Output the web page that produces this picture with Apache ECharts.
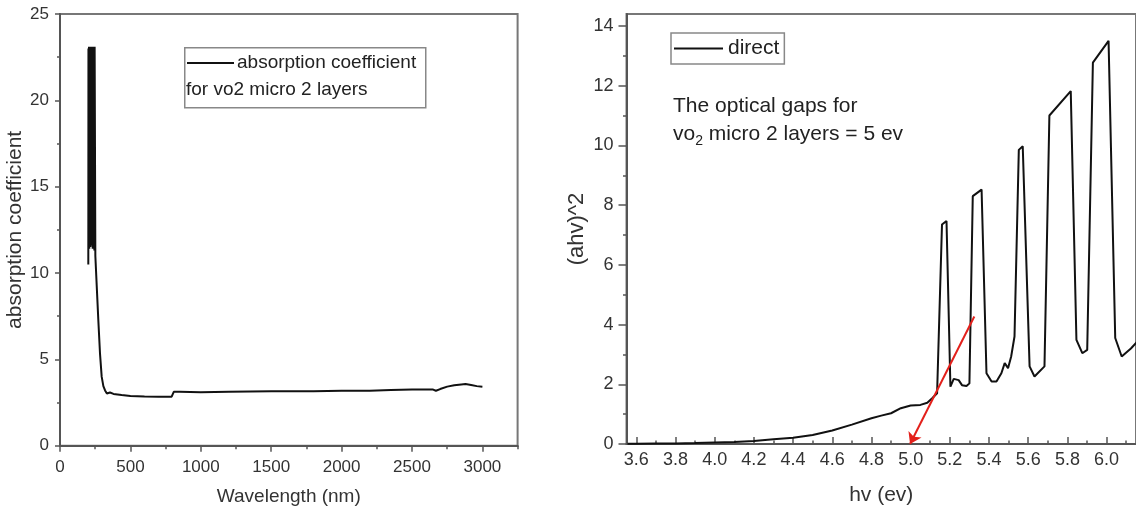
<!DOCTYPE html>
<html>
<head>
<meta charset="utf-8">
<script src="https://cdn.jsdelivr.net/npm/echarts@6/dist/echarts.min.js"></script>
<style>
  html, body { margin: 0; padding: 0; background: #fff; }
  #chart { width: 1136px; height: 520px; }
</style>
</head>
<body>
<div id="chart"></div>
<script>
// ---------- Left panel: absorption coefficient vs wavelength ----------
const wavelength = [201, 202, 204, 206, 208, 210, 212, 214, 216, 218, 220, 222, 224, 226, 228, 230, 232, 234, 236, 238, 240, 242, 244, 246, 248, 251,
  260, 272, 284, 296, 308, 320, 333, 343, 355, 380, 438, 500, 600, 700, 793, 800, 808, 850, 1000, 1200, 1210, 1500, 1800, 2000, 2200, 2350, 2500, 2600, 2650, 2670, 2700, 2750, 2800, 2850, 2880, 2920, 2960, 3000];
const absorption = [10.5, 23.0, 11.6, 23.1, 11.4, 23.0, 11.8, 23.1, 11.5, 23.0, 11.9, 23.1, 11.6, 23.0, 11.7, 23.1, 11.4, 23.0, 11.8, 23.1, 11.5, 23.0, 11.3, 23.1, 23.0, 11.0,
  9.4, 7.3, 5.35, 4.0, 3.45, 3.2, 3.02, 2.99, 3.08, 3.0, 2.94, 2.88, 2.85, 2.84, 2.84, 2.95, 3.12, 3.12, 3.1, 3.12, 3.15, 3.15, 3.16, 3.18, 3.18, 3.22, 3.25, 3.26, 3.25, 3.18, 3.28, 3.42, 3.5, 3.55, 3.57, 3.52, 3.45, 3.42];
const leftXTicks = [0, 500, 1000, 1500, 2000, 2500, 3000];
const leftXMinor = [250, 750, 1250, 1750, 2250, 2750, 3250];
const leftYTicks = [0, 5, 10, 15, 20, 25];
const leftYMinor = [2.5, 7.5, 12.5, 17.5, 22.5];

// ---------- Right panel: (ahv)^2 vs hv ----------
const photonEnergy = [3.555, 3.6, 3.7, 3.8, 3.9, 4.0, 4.1, 4.2, 4.3, 4.4, 4.5, 4.6, 4.7, 4.8, 4.85, 4.9, 4.95, 5.0, 5.05, 5.085, 5.11, 5.135,
  5.16, 5.183, 5.203, 5.22, 5.245, 5.262, 5.285, 5.30, 5.317, 5.362, 5.387, 5.413, 5.438, 5.463, 5.48, 5.497, 5.513, 5.53,
  5.552, 5.572, 5.607, 5.632, 5.683, 5.708, 5.817, 5.846, 5.876, 5.901, 5.93, 6.01, 6.044, 6.077, 6.124, 6.16];
const ahv2 = [0.01, 0.01, 0.02, 0.02, 0.03, 0.05, 0.07, 0.1, 0.16, 0.21, 0.30, 0.45, 0.65, 0.86, 0.95, 1.03, 1.2, 1.29, 1.31, 1.38, 1.53, 1.70,
  7.35, 7.47, 1.92, 2.18, 2.14, 1.97, 1.94, 2.03, 8.3, 8.52, 2.37, 2.09, 2.09, 2.37, 2.71, 2.54, 2.93, 3.6,
  9.85, 9.97, 2.6, 2.26, 2.6, 11.0, 11.82, 3.49, 3.04, 3.15, 12.77, 13.5, 3.55, 2.93, 3.2, 3.45];
const arrowX = [5.325, 4.997];
const arrowY = [4.27, 0.0];
const rightXTicks = [3.6, 3.8, 4.0, 4.2, 4.4, 4.6, 4.8, 5.0, 5.2, 5.4, 5.6, 5.8, 6.0];
const rightXMinor = [3.7, 3.9, 4.1, 4.3, 4.5, 4.7, 4.9, 5.1, 5.3, 5.5, 5.7, 5.9, 6.1];
const rightYTicks = [0, 2, 4, 6, 8, 10, 12, 14];
const rightYMinor = [1, 3, 5, 7, 9, 11, 13];

const FONT = "'Liberation Sans', Arial, Helvetica, sans-serif";
const AXIS_COLOR = '#555';
const LABEL_COLOR = '#333';

const leftData = wavelength.map((x, i) => [x, absorption[i]]);
const rightData = photonEnergy.map((x, i) => [x, ahv2[i]]);

function majorAxis(opts) {
  return Object.assign({
    type: 'value',
    splitLine: { show: false },
    axisLine: { show: true, onZero: false, lineStyle: { color: AXIS_COLOR, width: 2 } },
    axisTick: { show: true, customValues: opts.ticks, length: opts.tickLen, inside: !!opts.inside,
      lineStyle: { color: AXIS_COLOR, width: 1.5 } },
    axisLabel: { show: true, customValues: opts.ticks, margin: opts.margin, color: LABEL_COLOR,
      fontFamily: FONT, fontSize: opts.fontSize, formatter: opts.formatter || (v => String(v)) },
  }, opts.extra);
}
function minorAxis(opts) {
  return Object.assign({
    type: 'value',
    splitLine: { show: false },
    axisLine: { show: false, onZero: false },
    axisLabel: { show: false },
    axisTick: { show: true, customValues: opts.ticks, length: opts.tickLen, inside: !!opts.inside,
      lineStyle: { color: AXIS_COLOR, width: 1.5 } },
  }, opts.extra);
}

const chart = echarts.init(document.getElementById('chart'), null, { renderer: 'canvas' });

const option = {
  animation: false,
  backgroundColor: '#fff',
  grid: [
    { left: 60, top: 14, right: 618.4, bottom: 74.3, show: true, borderColor: '#777', borderWidth: 2, backgroundColor: 'transparent' },
    { left: 626.5, top: 14, right: -5.3, bottom: 76, show: true, borderColor: '#777', borderWidth: 2, backgroundColor: 'transparent' }
  ],
  xAxis: [
    majorAxis({ ticks: leftXTicks, tickLen: 6, margin: 13, fontSize: 17,
      extra: { gridIndex: 0, position: 'bottom', min: 0, max: 3250,
        name: 'Wavelength (nm)', nameLocation: 'middle', nameGap: 42,
        nameTextStyle: { fontFamily: FONT, fontSize: 19, color: LABEL_COLOR } } }),
    minorAxis({ ticks: leftXMinor, tickLen: 3.5, extra: { gridIndex: 0, position: 'bottom', min: 0, max: 3250 } }),
    majorAxis({ ticks: rightXTicks, tickLen: 7, inside: true, margin: 7, fontSize: 18,
      formatter: v => Number(v).toFixed(1),
      extra: { gridIndex: 1, position: 'bottom', min: 3.55, max: 6.15,
        name: 'hv (ev)', nameLocation: 'middle', nameGap: 41,
        nameTextStyle: { fontFamily: FONT, fontSize: 21, color: LABEL_COLOR } } }),
    minorAxis({ ticks: rightXMinor, tickLen: 3.5, inside: true, extra: { gridIndex: 1, position: 'bottom', min: 3.55, max: 6.15 } })
  ],
  yAxis: [
    majorAxis({ ticks: leftYTicks, tickLen: 5, margin: 11, fontSize: 17,
      extra: { gridIndex: 0, position: 'left', min: 0, max: 25,
        name: 'absorption coefficient', nameLocation: 'middle', nameGap: 33,
        nameTextStyle: { fontFamily: FONT, fontSize: 21, color: LABEL_COLOR } } }),
    minorAxis({ ticks: leftYMinor, tickLen: 3, extra: { gridIndex: 0, position: 'left', min: 0, max: 25 } }),
    majorAxis({ ticks: rightYTicks, tickLen: 8, margin: 13, fontSize: 18,
      extra: { gridIndex: 1, position: 'left', min: 0, max: 14.4,
        name: '(ahv)^2', nameLocation: 'middle', nameGap: 39,
        nameTextStyle: { fontFamily: FONT, fontSize: 22, color: LABEL_COLOR } } }),
    minorAxis({ ticks: rightYMinor, tickLen: 3.5, extra: { gridIndex: 1, position: 'left', min: 0, max: 14.4 } })
  ],
  legend: {
    data: [{ name: 'direct', icon: 'path://M0,0 L100,0 L100,4 L0,4 Z' }],
    left: 671, top: 33,
    padding: [5, 5, 5, 3],
    itemWidth: 49, itemHeight: 2, itemGap: 4,
    borderColor: '#888', borderWidth: 1.5, backgroundColor: '#fff',
    selectedMode: false,
    itemStyle: { color: '#111' },
    textStyle: { fontFamily: FONT, fontSize: 21, color: '#222', padding: [0, 0, 0, 0] }
  },
  graphic: [
    { type: 'rect', left: 184, top: 47, shape: { width: 241, height: 60 },
      style: { fill: '#fff', stroke: '#888', lineWidth: 1.5 }, z: 10 },
    { type: 'line', shape: { x1: 187, y1: 63, x2: 234, y2: 63 },
      style: { stroke: '#111', lineWidth: 2 }, z: 11 },
    { type: 'text', x: 237, y: 63, z: 11,
      style: { text: 'absorption coefficient', fontFamily: FONT, fontSize: 19, fill: '#222', verticalAlign: 'middle', align: 'left' } },
    { type: 'text', x: 186, y: 90, z: 11,
      style: { text: 'for vo2 micro 2 layers', fontFamily: FONT, fontSize: 19, fill: '#222', verticalAlign: 'middle', align: 'left' } },
    { type: 'text', x: 673, y: 106, z: 11,
      style: { text: 'The optical gaps for', fontFamily: FONT, fontSize: 21, fill: '#222', verticalAlign: 'middle', align: 'left' } },
    { type: 'text', x: 673, y: 134, z: 11,
      style: { text: 'vo{sub|2} micro 2 layers = 5 ev', fontFamily: FONT, fontSize: 21, fill: '#222',
        verticalAlign: 'middle', align: 'left', lineHeight: 28,
        rich: { sub: { fontFamily: FONT, fontSize: 14, fill: '#222', verticalAlign: 'bottom', lineHeight: 14 } } } }
  ],
  series: [
    { name: 'absorption coefficient for vo2 micro 2 layers', type: 'line', xAxisIndex: 0, yAxisIndex: 0,
      data: leftData, symbol: 'none', showSymbol: false, smooth: false,
      lineStyle: { color: '#111', width: 2 }, itemStyle: { color: '#111' } },
    { name: 'direct', type: 'line', xAxisIndex: 2, yAxisIndex: 2,
      data: rightData, symbol: 'none', showSymbol: false, smooth: false,
      lineStyle: { color: '#111', width: 2 }, itemStyle: { color: '#111' },
      markLine: {
        silent: true, symbol: ['none', 'arrow'], symbolSize: 11, animation: false,
        label: { show: false },
        lineStyle: { color: '#e3201b', width: 2, type: 'solid' },
        data: [[{ coord: [arrowX[0], arrowY[0]] }, { coord: [arrowX[1], arrowY[1]] }]]
      } }
  ]
};
chart.setOption(option);
</script>
</body>
</html>
